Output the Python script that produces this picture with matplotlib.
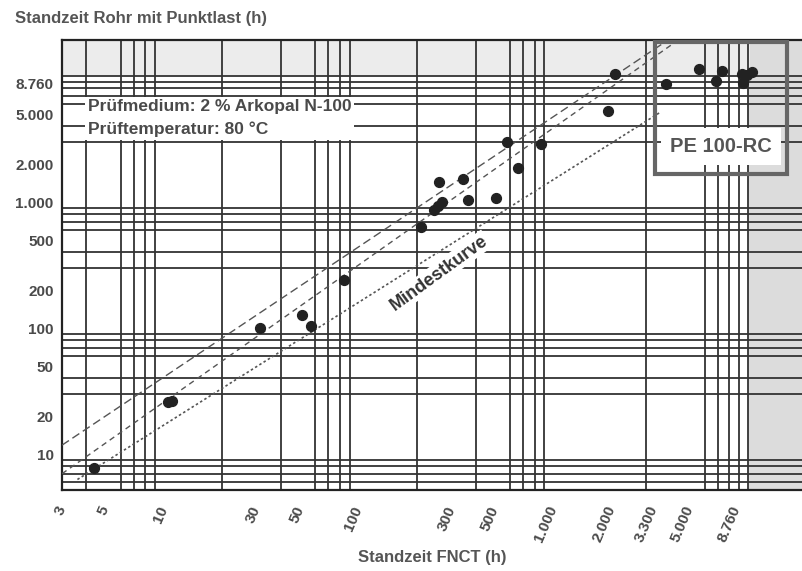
import numpy as np
import matplotlib
matplotlib.use("Agg")
import matplotlib.pyplot as plt
from matplotlib.ticker import FixedLocator, NullFormatter
from matplotlib.patches import Rectangle

plt.rcParams['font.family'] = ['Liberation Sans', 'DejaVu Sans']

# FNCT (h) vs. pipe with point load (h)
fnct_h = [4.4, 10.5, 11, 31, 51, 57, 84, 210, 245, 255, 267, 259, 345, 365, 505,
          580, 655, 860, 1900, 2080, 3800, 5600, 6800, 7300, 9300, 9400, 9900, 10500]
rohr_h = [7.8, 26, 26.5, 100, 128, 105, 240, 640, 860, 930, 1010, 1450, 1530, 1040, 1090,
          3000, 1860, 2880, 5300, 10500, 8700, 11500, 9100, 11000, 10500, 8900, 10200, 10800]

# reference lines (start/end points)
upper_x = [3, 3900]
upper_y = [11.8, 19500]
mid_x = [3, 4400]
mid_y = [7.0, 19500]
min_x = [3.6, 3540]
min_y = [6.3, 5180]

x_ticks = [3, 5, 10, 30, 50, 100, 300, 500, 1000, 2000, 3300, 5000, 8760]
x_labels = ['3', '5', '10', '30', '50', '100', '300', '500', '1.000', '2.000', '3.300', '5.000', '8.760']
y_ticks = [10, 20, 50, 100, 200, 500, 1000, 2000, 5000, 8760]
y_labels = ['10', '20', '50', '100', '200', '500', '1.000', '2.000', '5.000', '8.760']

x_grid = [3, 4, 5, 6, 7, 8, 9, 10, 20, 30, 40, 50, 60, 70, 80, 90, 100,
          200, 300, 400, 500, 600, 700, 800, 900, 1000,
          2000, 3000, 3300, 5000, 6000, 7000, 8000, 9000, 10000]
y_grid = [6, 7, 8, 9, 10, 20, 30, 40, 50, 60, 70, 80, 90, 100,
          200, 300, 400, 500, 600, 700, 800, 900, 1000,
          2000, 3000, 4000, 5000, 6000, 7000, 8000, 9000, 10000]

txt_col = '#4a4a4a'

fig = plt.figure(figsize=(8.02, 5.71), dpi=100)
ax = fig.add_axes([62/802, 81/571, 740/802, 450/571])
ax.set_xscale('log')
ax.set_yscale('log')
ax.set_xlim(3.0, 18900)
ax.set_ylim(5.2, 19400)

# shaded paper regions
ax.axvspan(10000, 18900, color='#dcdcdc', zorder=0, lw=0)
ax.axhspan(10000, 19400, xmin=0, xmax=0.93, color='#ececec', zorder=0, lw=0)

ax.xaxis.set_minor_locator(FixedLocator(x_grid))
ax.yaxis.set_minor_locator(FixedLocator(y_grid))
ax.xaxis.set_minor_formatter(NullFormatter())
ax.yaxis.set_minor_formatter(NullFormatter())
ax.grid(False, which='major')
ax.grid(True, which='minor', color='#333333', lw=1.3)
ax.set_axisbelow(True)

ax.set_xticks(x_ticks)
ax.set_xticklabels(x_labels, rotation=67, ha='right', va='center',
                   rotation_mode='anchor', fontsize=11, fontweight='bold', color=txt_col)
ax.set_yticks(y_ticks)
ax.set_yticklabels(y_labels, fontsize=11, fontweight='bold', color=txt_col)
ax.tick_params(which='both', length=0)
ax.tick_params(axis='x', pad=12)
ax.tick_params(axis='y', pad=6)

for s in ['left', 'bottom', 'top']:
    ax.spines[s].set_linewidth(1.6)
    ax.spines[s].set_color('#222222')
ax.spines['right'].set_visible(False)

ax.plot(upper_x, upper_y, color='#555555', lw=1.0, ls=(0, (6, 3)), zorder=3)
ax.plot(mid_x, mid_y, color='#555555', lw=1.0, ls=(0, (4, 3)), zorder=3)
ax.plot(min_x, min_y, color='#555555', lw=1.2, ls=(0, (1.5, 1.5)), zorder=3)

ax.scatter(fnct_h, rohr_h, s=50, color='#222222', zorder=5)

# annotations
ax.text(0.035, 0.826, 'Prüfmedium: 2 % Arkopal N-100\nPrüftemperatur: 80 °C',
        transform=ax.transAxes, fontsize=12.5, fontweight='bold', color=txt_col,
        va='center', ha='left', linespacing=1.6, zorder=6,
        bbox=dict(boxstyle='square,pad=0.15', fc='white', ec='none'))

ax.add_patch(Rectangle((0.801, 0.702), 0.179, 0.294, transform=ax.transAxes,
                       fill=False, ec='#666666', lw=3, zorder=6))
ax.text(0.891, 0.764, 'PE 100-RC', transform=ax.transAxes, fontsize=14.5,
        fontweight='bold', color='#555555', ha='center', va='center', zorder=7,
        bbox=dict(boxstyle='square,pad=0.45', fc='white', ec='none'))

ax.text(0.509, 0.482, 'Mindestkurve', transform=ax.transAxes, fontsize=13,
        fontweight='bold', color='#333333', ha='center', va='center', rotation=36,
        zorder=6, bbox=dict(boxstyle='square,pad=0.1', fc='white', ec='none'))

fig.text(0.0187, 0.968, 'Standzeit Rohr mit Punktlast (h)', fontsize=12,
         fontweight='bold', color='#555555', ha='left', va='center')
fig.text(0.539, 0.0245, 'Standzeit FNCT (h)', fontsize=12,
         fontweight='bold', color='#555555', ha='center', va='center')

fig.savefig('out.png', dpi=100)
